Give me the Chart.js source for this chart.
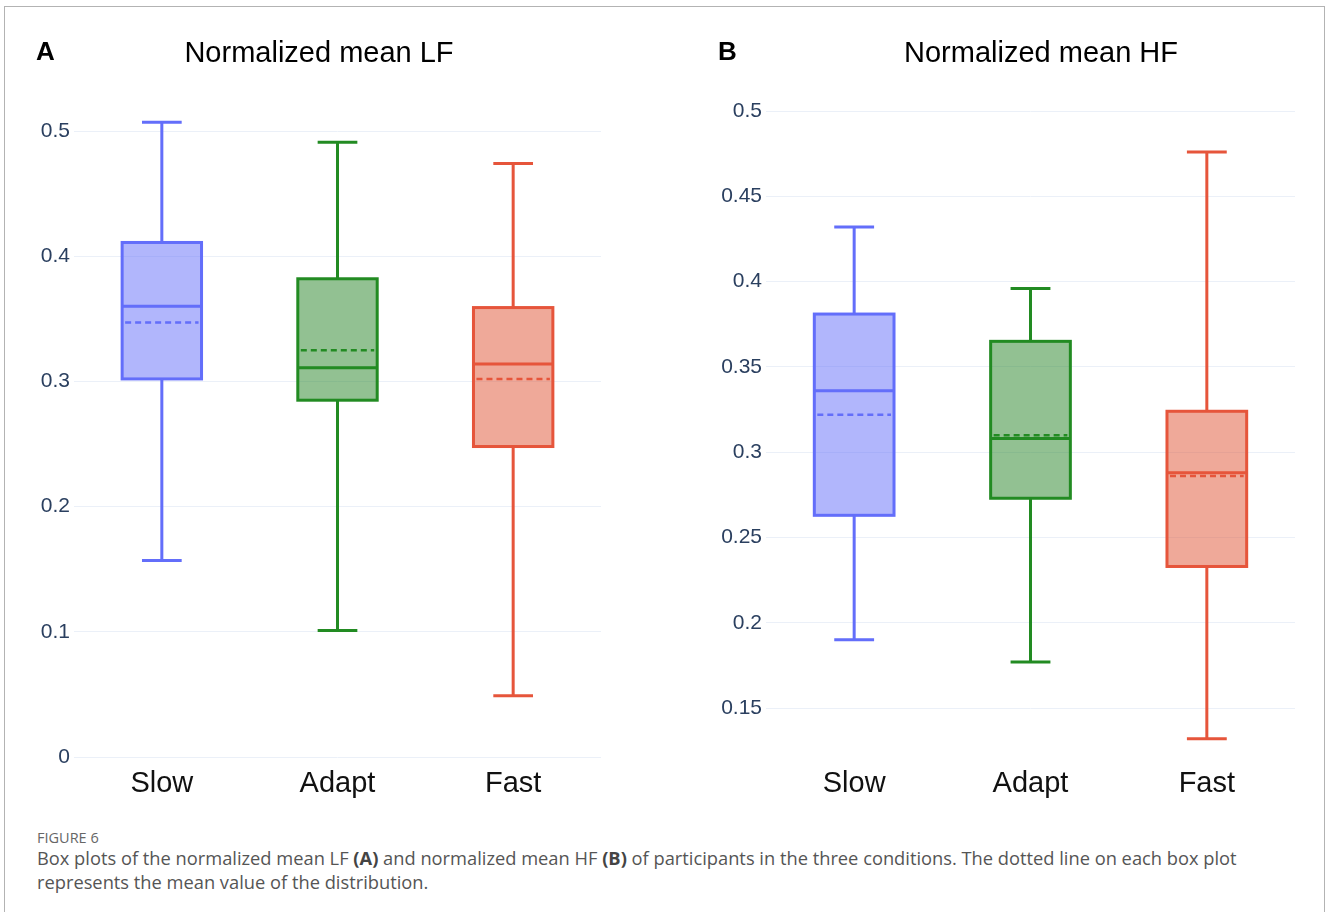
<!DOCTYPE html>
<html>
<head>
<meta charset="utf-8">
<script src="https://cdn.jsdelivr.net/npm/chart.js@4.4.1/dist/chart.umd.min.js"></script>
<style>
html,body{margin:0;padding:0;background:#fff;width:1328px;height:912px;overflow:hidden;}
#frame{position:absolute;left:4px;top:6px;width:1321px;height:930px;border:1px solid #b3b3b3;box-sizing:border-box;}
canvas{position:absolute;top:0;}
.letter{position:absolute;font-family:"Liberation Sans",Arial,sans-serif;font-weight:bold;font-size:26px;line-height:26px;color:#000;}
.title{position:absolute;font-family:"Liberation Sans",Arial,sans-serif;font-size:29px;line-height:29px;color:#000;white-space:nowrap;transform:translateX(-50%);}
#figlabel{position:absolute;left:37px;top:829px;font-family:"Open Sans",sans-serif;font-size:14.5px;line-height:18px;color:#666;}
#caption{position:absolute;left:37px;top:846px;font-family:"Open Sans",sans-serif;font-size:18.3px;line-height:24px;color:#555;white-space:nowrap;}
#caption b{font-weight:700;color:#444;}
</style>
</head>
<body>
<div id="frame"></div>
<canvas id="cA" width="640" height="820" style="left:0px"></canvas>
<canvas id="cB" width="656" height="820" style="left:664px"></canvas>
<div class="letter" style="left:36px;top:38px">A</div>
<div class="letter" style="left:718px;top:38px">B</div>
<div class="title" style="left:319px;top:38px">Normalized mean LF</div>
<div class="title" style="left:1041px;top:38px">Normalized mean HF</div>
<div id="figlabel">FIGURE 6</div>
<div id="caption">Box plots of the normalized mean LF <b>(A)</b> and normalized mean HF <b>(B)</b> of participants in the three conditions. The dotted line on each box plot<br>represents the mean value of the distribution.</div>
<script>
// ---- data ----
const categories = ['Slow', 'Adapt', 'Fast'];

const lfMin    = [0.157, 0.101, 0.049];
const lfQ1     = [0.302, 0.285, 0.248];
const lfMedian = [0.360, 0.311, 0.314];
const lfQ3     = [0.411, 0.382, 0.359];
const lfMax    = [0.507, 0.491, 0.474];
const lfMean   = [0.347, 0.325, 0.302];
const lfTicks  = [0, 0.1, 0.2, 0.3, 0.4, 0.5];

const hfMin    = [0.190, 0.177, 0.132];
const hfQ1     = [0.263, 0.273, 0.233];
const hfMedian = [0.336, 0.308, 0.288];
const hfQ3     = [0.381, 0.365, 0.324];
const hfMax    = [0.432, 0.396, 0.476];
const hfMean   = [0.322, 0.310, 0.286];
const hfTicks  = [0.15, 0.2, 0.25, 0.3, 0.35, 0.4, 0.45, 0.5];

// ---- styles ----
const lineColors = ['#636EFA', '#228B22', '#E6553B'];
const fillColors = ['rgba(99,110,250,0.5)', 'rgba(38,132,38,0.5)', 'rgba(224,84,52,0.5)'];
const FONT = '"Liberation Sans", Arial, sans-serif';

const boxPlugin = {
  id: 'boxes',
  afterDatasetsDraw(chart, args, opts) {
    const s = opts.stats;
    const ctx = chart.ctx;
    const y = chart.scales.y;
    const py = v => y.getPixelForValue(v);
    const meta = chart.getDatasetMeta(0);
    meta.data.forEach((el, i) => {
      const p = el.getProps(['x', 'width'], true);
      const x = p.x, w = p.width;
      const c = lineColors[i];
      const t = py(s.q3[i]), b = py(s.q1[i]);
      const hi = py(s.max[i]), lo = py(s.min[i]);
      const md = py(s.med[i]), mn = py(s.mean[i]);
      ctx.save();
      ctx.strokeStyle = c;
      ctx.lineWidth = 3;
      ctx.lineCap = 'butt';
      ctx.strokeRect(x - w / 2, t, w, b - t);
      ctx.beginPath();
      ctx.moveTo(x, t); ctx.lineTo(x, hi);
      ctx.moveTo(x - w / 4, hi); ctx.lineTo(x + w / 4, hi);
      ctx.moveTo(x, b); ctx.lineTo(x, lo);
      ctx.moveTo(x - w / 4, lo); ctx.lineTo(x + w / 4, lo);
      ctx.moveTo(x - w / 2, md); ctx.lineTo(x + w / 2, md);
      ctx.stroke();
      ctx.setLineDash([6, 4]);
      ctx.lineWidth = 2.5;
      ctx.beginPath();
      ctx.moveTo(x - w / 2 + 3, mn); ctx.lineTo(x + w / 2 - 3, mn);
      ctx.stroke();
      ctx.restore();
    });
  }
};

function makeChart(id, q1, q3, stats, ticks, range, pad, yWidth) {
  return new Chart(document.getElementById(id), {
    type: 'bar',
    data: {
      labels: categories,
      datasets: [{
        data: categories.map((_, i) => [q1[i], q3[i]]),
        backgroundColor: fillColors,
        borderWidth: 0,
        barPercentage: 0.452,
        categoryPercentage: 1.0
      }]
    },
    options: {
      responsive: false,
      animation: false,
      devicePixelRatio: 1,
      layout: { padding: pad },
      plugins: {
        legend: { display: false },
        tooltip: { enabled: false },
        title: { display: false },
        boxes: { stats: stats }
      },
      scales: {
        x: {
          grid: { display: false, drawTicks: false },
          border: { display: false },
          ticks: { color: '#111', font: { family: FONT, size: 29 }, padding: 10, maxRotation: 0 },
          afterFit(scale) { scale.height = 44; }
        },
        y: {
          min: range[0], max: range[1],
          grid: { color: '#EBF0F8', lineWidth: 1, drawTicks: false },
          border: { display: false },
          afterBuildTicks(scale) { scale.ticks = ticks.map(v => ({ value: v })); },
          ticks: { color: '#2a3f5f', font: { family: FONT, size: 21 }, padding: 4, callback: v => String(v) },
          afterFit(scale) { scale.width = yWidth; }
        }
      }
    },
    plugins: [boxPlugin]
  });
}

makeChart('cA', lfQ1, lfQ3,
  { q1: lfQ1, q3: lfQ3, med: lfMedian, mean: lfMean, min: lfMin, max: lfMax },
  lfTicks, [0, 0.5248], { top: 100, bottom: 19, left: 30, right: 39 }, 44);

makeChart('cB', hfQ1, hfQ3,
  { q1: hfQ1, q3: hfQ3, med: hfMedian, mean: hfMean, min: hfMin, max: hfMax },
  hfTicks, [0.1213, 0.5065], { top: 100, bottom: 19, left: 50, right: 25 }, 52);
</script>
</body>
</html>
